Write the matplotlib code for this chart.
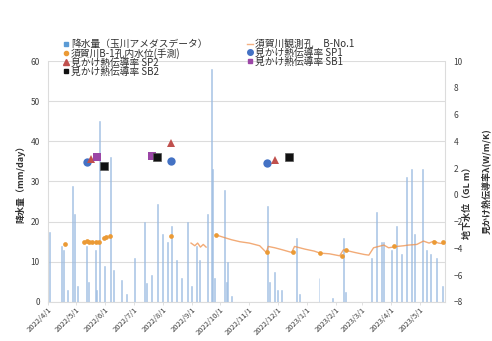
import datetime as dt
import numpy as np
import matplotlib
matplotlib.use("Agg")
import matplotlib.pyplot as plt
import matplotlib.dates as mdates
from matplotlib.lines import Line2D

plt.rcParams['font.family'] = ['Noto Sans CJK JP', 'DejaVu Sans']

# 日降水量 (玉川アメダス) mm/day
rain_dates = [
    "2022-04-03", "2022-04-15", "2022-04-17", "2022-04-22", "2022-04-27", "2022-04-29",
    "2022-05-02", "2022-05-12", "2022-05-14", "2022-05-21", "2022-05-23", "2022-05-26",
    "2022-05-31", "2022-06-06", "2022-06-10", "2022-06-18", "2022-06-23", "2022-07-02",
    "2022-07-13", "2022-07-15", "2022-07-20", "2022-07-26", "2022-08-01", "2022-08-06",
    "2022-08-10", "2022-08-16", "2022-08-21", "2022-08-27", "2022-08-31", "2022-09-06",
    "2022-09-09", "2022-09-18", "2022-09-22", "2022-09-23", "2022-09-25", "2022-10-06",
    "2022-10-08", "2022-10-09", "2022-10-13", "2022-11-20", "2022-11-22", "2022-11-28",
    "2022-12-01", "2022-12-05", "2022-12-21", "2022-12-24", "2023-01-14", "2023-01-28",
    "2023-02-09", "2023-02-11", "2023-03-11", "2023-03-16", "2023-03-21", "2023-03-24",
    "2023-04-01", "2023-04-06", "2023-04-12", "2023-04-17", "2023-04-22", "2023-04-26",
    "2023-05-04", "2023-05-08", "2023-05-13", "2023-05-19", "2023-05-25",
]
rain_mm = [
    17.5, 14, 13, 3, 29, 22,
    4, 14, 5, 13, 3, 45,
    9, 36, 8, 5.5, 2, 11,
    20, 4.7, 6.7, 24.5, 17, 15,
    19, 10.5, 6, 20, 4, 14,
    10.5, 22, 58, 33, 6, 28,
    5, 10, 1.5, 24, 5, 7.5,
    3, 3, 16, 2, 6, 1,
    16, 2.5, 11, 22.5, 15, 15,
    13, 19, 12, 31, 33, 17,
    33, 13, 12, 11, 4,
]

# 須賀川観測孔 B-No.1 (連続観測) GL m, 欠測区間は空文字
logger_dates = [
    "2022-08-31", "2022-09-04", "2022-09-07", "2022-09-10", "2022-09-13", "2022-09-16",
    "",
    "2022-09-27", "2022-10-06", "2022-10-13", "2022-10-22", "2022-11-01", "2022-11-12",
    "2022-11-19", "2022-11-21", "2022-11-28", "2022-12-06", "2022-12-16", "2022-12-19",
    "2022-12-30", "2023-01-09", "2023-01-15", "2023-01-25", "2023-02-05", "2023-02-09",
    "2023-02-21", "2023-03-03", "2023-03-08", "2023-03-13", "2023-03-24", "2023-03-29",
    "2023-04-07", "2023-04-14", "2023-04-19", "2023-04-28", "2023-05-05", "2023-05-11",
    "2023-05-16", "2023-05-21", "2023-05-27",
]
logger_gl = [
    -3.6, -3.8, -3.6, -3.9, -3.7, -3.9,
    np.nan,
    -3.0, -3.2, -3.35, -3.5, -3.6, -3.8,
    -4.3, -3.85, -3.95, -4.1, -4.3, -3.85,
    -4.05, -4.2, -4.35, -4.4, -4.55, -4.1,
    -4.3, -4.45, -4.5, -3.95, -3.75, -3.95,
    -3.85, -3.8, -3.75, -3.7, -3.45, -3.6,
    -3.45, -3.6, -3.65,
]

# 須賀川B-1孔内水位 (手測) GL m
manual_dates = [
    "2022-04-19", "2022-05-09", "2022-05-12", "2022-05-15", "2022-05-18", "2022-05-22",
    "2022-05-25", "2022-05-30", "2022-06-02", "2022-06-06", "2022-08-10", "2022-09-27",
    "2022-11-20", "2022-12-17", "2023-01-15", "2023-02-07", "2023-02-12", "2023-04-04",
    "2023-05-16", "2023-05-26",
]
manual_gl = [
    -3.7, -3.5, -3.45, -3.5, -3.55, -3.55,
    -3.5, -3.2, -3.15, -3.1, -3.1, -3.0,
    -4.3, -4.3, -4.35, -4.6, -4.1, -3.85,
    -3.5, -3.5,
]

# 見かけ熱伝導率 λ (W/m/K)
sp1_dates = ["2022-05-12", "2022-08-10", "2022-11-20"]
sp1_val = [1.74, 1.75, 1.73]
sp2_dates = ["2022-05-17", "2022-08-10", "2022-11-28"]
sp2_val = [1.78, 1.98, 1.77]
sb1_dates = ["2022-05-23", "2022-07-20"]
sb1_val = [1.80, 1.82]
sb2_dates = ["2022-05-31", "2022-07-26", "2022-12-13"]
sb2_val = [1.69, 1.80, 1.80]

month_ticks = [dt.date(2022 + (3 + i) // 12, (3 + i) % 12 + 1, 1) for i in range(14)]


def to_dates(lst):
    # 空文字は欠測 (線を切るための点)
    return [dt.date.fromisoformat(s) if s else dt.date(2022, 9, 20) for s in lst]


fig = plt.figure(figsize=(4.92, 3.41), dpi=100)
ax = fig.add_axes([0.0976, 0.1144, 0.807, 0.7067])
ax2 = ax.twinx()
ax3 = ax.twinx()

txt = '#404040'
grid_c = '#dcdcdc'

# 降水量
ax.bar(to_dates(rain_dates), rain_mm, width=1.0, color='#9dbde2',
       edgecolor='#9dbde2', linewidth=0.4, alpha=0.85, zorder=2)
ax.set_ylim(0, 60)
ax.set_yticks(np.arange(0, 61, 10))
ax.yaxis.grid(True, color=grid_c, linewidth=0.8)
ax.set_axisbelow(True)
ax.set_xlim(dt.date(2022, 4, 1), dt.date(2023, 5, 28))
ax.set_xticks(month_ticks)
ax.xaxis.set_major_formatter(
    plt.FuncFormatter(lambda v, p: (lambda d: f"{d.year}/{d.month}/{d.day}")(mdates.num2date(v))))
ax.tick_params(axis='x', labelsize=5.5, colors=txt, length=2, width=0.6, color=grid_c, pad=1)
for lab in ax.get_xticklabels():
    lab.set_rotation(45)
    lab.set_ha('right')
    lab.set_rotation_mode('anchor')
ax.tick_params(axis='y', labelsize=6, colors=txt, length=0, pad=6)
ax.set_ylabel('降水量（mm/day）', fontsize=6.5, color='#303030', fontweight='bold', labelpad=4)
for s in ax.spines.values():
    s.set_color(grid_c)
    s.set_linewidth(0.8)
ax.spines['top'].set_visible(False)

# 地下水位
ax2.plot(to_dates(logger_dates), logger_gl, color='#ee8f4a', linewidth=1.0, alpha=0.75, zorder=3)
ax2.plot(to_dates(manual_dates), manual_gl, linestyle='none', marker='o', ms=3.4,
         color='#eb9a35', markeredgewidth=0, zorder=4)
ax2.set_ylim(-8, 10)
ax2.set_yticks(np.arange(-8, 11, 2))
ax2.tick_params(axis='y', labelsize=6, colors=txt, length=0, pad=6)
ax2.set_ylabel('地下水位（GL m）', fontsize=6.5, color='#303030', fontweight='bold')
ax2.yaxis.set_label_coords(1.045, 0.42)
for s in ax2.spines.values():
    s.set_visible(False)

# 見かけ熱伝導率
ax3.plot(to_dates(sp1_dates), sp1_val, 'o', color='#4472c4', ms=6, markeredgewidth=0, zorder=5)
ax3.plot(to_dates(sp2_dates), sp2_val, '^', color='#c0504d', ms=6, markeredgewidth=0, zorder=5)
ax3.plot(to_dates(sb1_dates), sb1_val, 's', color='#9b46a6', ms=5.5, markeredgewidth=0, zorder=5)
ax3.plot(to_dates(sb2_dates), sb2_val, 's', color='#111111', ms=5.5,
         markeredgecolor='#555555', markeredgewidth=0.5, zorder=5)
ax3.set_ylim(0, 3)
ax3.tick_params(axis='y', right=False, labelright=False)
ax3.set_ylabel('見かけ熱伝導率λ(W/m/K)', fontsize=6.5, color='#303030', fontweight='bold')
ax3.yaxis.set_label_coords(1.09, 0.5)
for s in ax3.spines.values():
    s.set_visible(False)

handles = [
    Line2D([], [], linestyle='none', marker='s', ms=3.5, color='#5b9bd5'),
    Line2D([], [], linestyle='none', marker='o', ms=3, color='#eb9a35'),
    Line2D([], [], linestyle='none', marker='^', ms=4, color='#c0504d'),
    Line2D([], [], linestyle='none', marker='s', ms=3.5, color='#111111'),
    Line2D([], [], color='#f4b183', linewidth=1),
    Line2D([], [], linestyle='none', marker='o', ms=4, color='#4472c4'),
    Line2D([], [], linestyle='none', marker='s', ms=3.5, color='#9b46a6'),
]
labels = [
    '降水量（玉川アメダスデータ）', '須賀川B-1孔内水位(手測)', '見かけ熱伝導率 SP2', '見かけ熱伝導率 SB2',
    '須賀川観測孔　B-No.1', '見かけ熱伝導率 SP1', '見かけ熱伝導率 SB1',
]
fig.legend(handles, labels, loc='upper left', bbox_to_anchor=(0.117, 0.9), ncol=2,
           frameon=False, fontsize=7, labelspacing=-0.12, handlelength=0.7, handletextpad=0.2,
           columnspacing=4.0, borderpad=0, labelcolor='#303030')

fig.savefig('out.png', dpi=100)
